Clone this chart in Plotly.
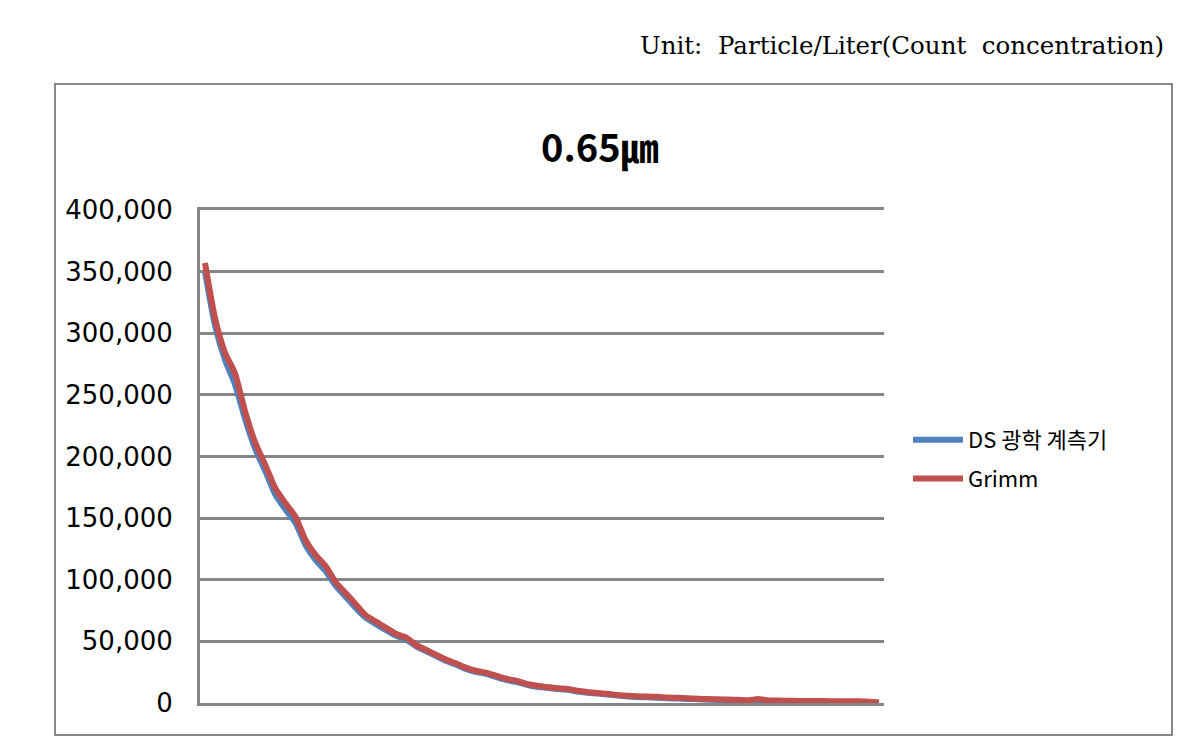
import plotly.graph_objects as go

W, H = 1187, 742

title_text = "0.65㎛"
unit_text = "Unit:  Particle/Liter(Count  concentration)"
series_names = ["DS 광학 계측기", "Grimm"]
y_ticks = [0, 50000, 100000, 150000, 200000, 250000, 300000, 350000, 400000]

grimm = [357000, 312000, 284000, 267000, 236000, 211000, 193000, 174000, 162000, 151000,
         132000, 120000, 111000, 98000, 89000, 80000, 71000, 66000, 61000, 56000,
         53000, 47000, 43000, 39000, 35000, 32000, 28500, 26000, 24500, 22000,
         19500, 18000, 15500, 14000, 13000, 12000, 11500, 10000, 9000, 8200,
         7500, 6500, 5800, 5500, 5200, 5000, 4500, 4200, 3900, 3500,
         3200, 3000, 2800, 2600, 2300, 3200, 2100, 2000, 1800, 1700,
         1600, 1600, 1500, 1500, 1400, 1400, 1100, 500]

ds = [350000, 306000, 278000, 258000, 230000, 206000, 188000, 169000, 157000, 146000,
      128000, 116000, 107000, 95000, 86000, 77000, 69000, 64000, 59000, 54500,
      51500, 46000, 42000, 38000, 34000, 31000, 27500, 25000, 23500, 21000,
      18500, 17000, 14800, 13200, 12300, 11300, 10800, 9400, 8400, 7600,
      6900, 6000, 5300, 4900, 4600, 4300, 3900, 3600, 3300, 3000,
      2700, 2500, 2300, 2100, 1900, 2400, 1700, 1600, 1400, 1300,
      1200, 1100, 1000, 900, 800, 700, 500, 200]

x = list(range(1, len(grimm) + 1))

fig = go.Figure()
fig.add_trace(go.Scatter(x=x, y=ds, mode="lines", name=series_names[0],
                         legendgroup="a",
                         line=dict(color="#4F81BD", width=6, shape="spline", smoothing=0.6)))
fig.add_trace(go.Scatter(x=x, y=grimm, mode="lines", name=series_names[1],
                         legendgroup="b",
                         line=dict(color="#C0504D", width=6, shape="spline", smoothing=0.6)))

def px(v):
    return v / W

def py(v):
    return 1 - v / H

fig.update_layout(
    width=W, height=H,
    margin=dict(l=0, r=0, t=0, b=0, autoexpand=False),
    paper_bgcolor="white", plot_bgcolor="white",
    showlegend=True,
    legend=dict(x=px(908), y=py(419), xanchor="left", yanchor="top",
                font=dict(family="Noto Sans CJK KR", size=22, color="black"),
                bgcolor="rgba(0,0,0,0)", itemwidth=50, tracegroupgap=7),
    xaxis=dict(domain=[px(200), px(884)], range=[0.5, len(grimm) + 0.5],
               showgrid=False, zeroline=False, showticklabels=False,
               ticks="", showline=True, linecolor="#868686", linewidth=3,
               mirror=True, automargin=False),
    yaxis=dict(domain=[py(703), py(210)], range=[0, 400000],
               tickvals=y_ticks, tickformat=",",
               showgrid=True, gridcolor="#868686", gridwidth=3,
               zeroline=False, showline=True, linecolor="#868686", linewidth=3,
               ticks="", ticklabelstandoff=19, automargin=False,
               tickfont=dict(family="DejaVu Sans", size=26, color="black")),
    shapes=[dict(type="rect", xref="paper", yref="paper",
                 x0=px(55), x1=px(1172), y0=py(735), y1=py(84),
                 line=dict(color="#878787", width=2), layer="below")],
    annotations=[
        dict(text="<b>" + title_text + "</b>", xref="paper", yref="paper",
             x=px(600), y=py(145), xanchor="center", yanchor="middle",
             showarrow=False,
             font=dict(family="Noto Sans CJK KR", size=38, color="black")),
        dict(text=unit_text, xref="paper", yref="paper",
             x=px(1166), y=py(45), xanchor="right", yanchor="middle",
             showarrow=False,
             font=dict(family="DejaVu Serif", size=24.5, color="black")),
    ],
)

fig.write_html("out.html")
